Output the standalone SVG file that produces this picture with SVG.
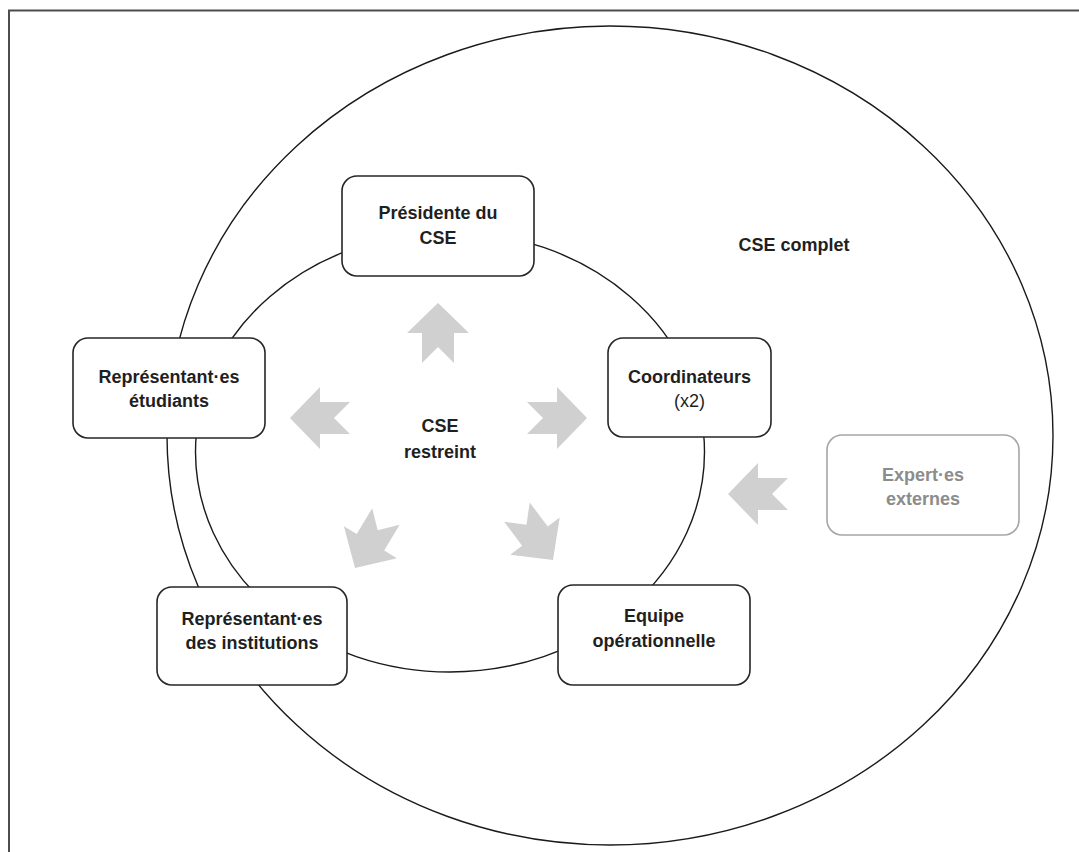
<svg xmlns="http://www.w3.org/2000/svg" xmlns:xlink="http://www.w3.org/1999/xlink" width="1079" height="852" viewBox="0 0 1079 852">
<style>
.ring{fill:none;stroke:#1a1a1a;stroke-width:1.4}
.box{fill:#ffffff;stroke:#262626;stroke-width:1.6}
.ext{fill:#ffffff;stroke:#a6a6a6;stroke-width:1.6}
.t{font-family:"Liberation Sans",Arial,sans-serif;font-size:18px;font-weight:bold;fill:#1f1f1f;text-anchor:middle}
.tn{font-weight:normal}
.g{fill:#8c8c8c}
.arr{fill:#d0d0d0}
</style>
<defs>
<path id="notch" d="M0,0 L-30,-31 L-30,-16 L-60,-16 L-44,0 L-60,16 L-30,16 L-30,31 Z"/>
</defs>
<rect width="1079" height="852" fill="#ffffff"/>
<path d="M9,852 V10.5 H1079" fill="none" stroke="#4d4d4d" stroke-width="2"/>
<ellipse class="ring" cx="610" cy="435.5" rx="443" ry="409.5"/>
<ellipse class="ring" cx="450" cy="452" rx="254.5" ry="220"/>
<text class="t" x="794" y="251">CSE complet</text>
<g id="centre">
<text class="t" x="440" y="432">CSE</text>
<text class="t" x="440" y="458">restreint</text>
</g>
<g id="connectors" class="arr">
<use xlink:href="#notch" transform="translate(438,303) rotate(-90)"/>
<use xlink:href="#notch" transform="translate(290,418) rotate(180)"/>
<use xlink:href="#notch" transform="translate(587,418)"/>
<use xlink:href="#notch" transform="translate(355,568) rotate(121)"/>
<use xlink:href="#notch" transform="translate(553,560) rotate(53)"/>
<use xlink:href="#notch" transform="translate(728,494) rotate(180)"/>
</g>
<g id="presidente">
<rect class="box" x="342" y="176" width="192" height="100" rx="15"/>
<text class="t" x="438" y="219">Présidente du</text>
<text class="t" x="438" y="244">CSE</text>
</g>
<g id="etudiants">
<rect class="box" x="73" y="338" width="192" height="100" rx="15"/>
<text class="t" x="169" y="383">Représentant·es</text>
<text class="t" x="169" y="407">étudiants</text>
</g>
<g id="coordinateurs">
<rect class="box" x="608" y="338" width="163" height="99" rx="15"/>
<text class="t" x="689.5" y="383">Coordinateurs</text>
<text class="t tn" x="689.5" y="407">(x2)</text>
</g>
<g id="institutions">
<rect class="box" x="157" y="587" width="190" height="98" rx="15"/>
<text class="t" x="252" y="625">Représentant·es</text>
<text class="t" x="252" y="649">des institutions</text>
</g>
<g id="equipe">
<rect class="box" x="558" y="585" width="192" height="100" rx="15"/>
<text class="t" x="654" y="622">Equipe</text>
<text class="t" x="654" y="647">opérationnelle</text>
</g>
<g id="experts">
<rect class="ext" x="827" y="435" width="192" height="100" rx="15"/>
<text class="t g" x="923" y="481">Expert·es</text>
<text class="t g" x="923" y="505">externes</text>
</g>
</svg>
